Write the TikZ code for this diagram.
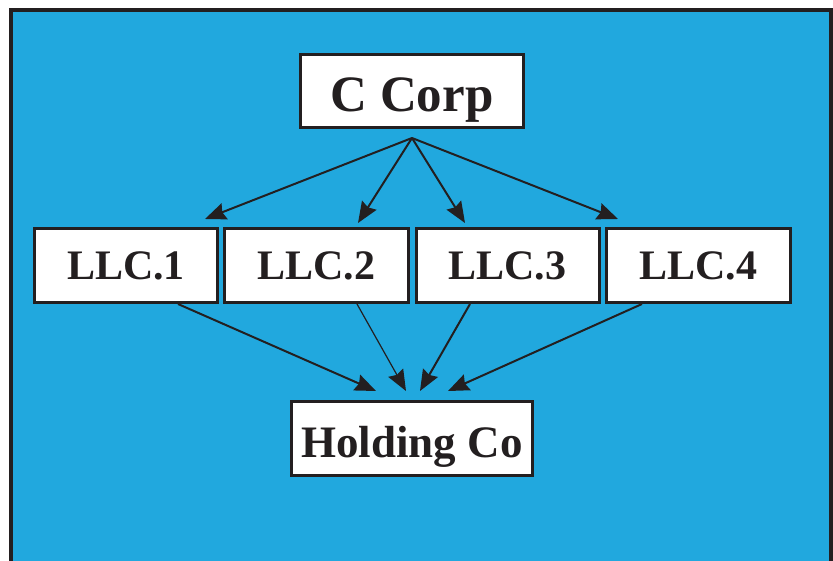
\documentclass[tikz,border=0pt]{standalone}
\usepackage{fontspec}
\setmainfont{Liberation Serif}
\usetikzlibrary{arrows.meta}
\definecolor{bgblue}{RGB}{33,168,222}
\definecolor{ink}{RGB}{35,31,32}
\tikzset{
  box/.style={draw=ink, fill=white, line width=3pt, inner sep=0pt, text=ink, font=\bfseries},
  arr/.style={draw=ink, line width=2pt, -{Stealth[length=21pt, width=17pt, inset=2.5pt]}},
  thinarr/.style={arr, line width=1.2pt}
}
\begin{document}
\begin{tikzpicture}[x=1pt, y=-1pt]
\useasboundingbox (0,0) rectangle (833,561);
\fill[bgblue] (10,10) rectangle (833,561);
\draw[ink, line width=4pt] (10.5,561) -- (10.5,10) -- (831,10) -- (831,561);

\node[box, minimum width=223pt, minimum height=73pt, text height=41pt, text depth=0pt, font=\fontsize{51}{51}\selectfont\bfseries] (ccorp) at (412,91) {C Corp};
\node[box, minimum width=183pt, minimum height=74pt, font=\fontsize{42}{42}\selectfont\bfseries] (llc1) at (126,265.5) {LLC.1};
\node[box, minimum width=184pt, minimum height=74pt, font=\fontsize{42}{42}\selectfont\bfseries] (llc2) at (316.5,265.5) {LLC.2};
\node[box, minimum width=183pt, minimum height=74pt, font=\fontsize{42}{42}\selectfont\bfseries] (llc3) at (507.5,265.5) {LLC.3};
\node[box, minimum width=184pt, minimum height=74pt, font=\fontsize{42}{42}\selectfont\bfseries] (llc4) at (698.5,265.5) {LLC.4};
\node[box, minimum width=241pt, minimum height=74pt, text height=37pt, text depth=0pt, font=\fontsize{45}{45}\selectfont\bfseries] (hold) at (412,438.5) {Holding Co};

% top fan
\coordinate (apex) at (412,138);
\coordinate (t1) at (205,219);
\coordinate (t2) at (358,223);
\coordinate (t3) at (465,223);
\coordinate (t4) at (618,219);
\draw[arr] (apex) -- (t1);
\draw[arr] (apex) -- (t2);
\draw[arr] (apex) -- (t3);
\draw[arr] (apex) -- (t4);

% bottom fan
\coordinate (s1) at (178,0);
\coordinate (s2) at (357,0);
\coordinate (s3) at (470,0);
\coordinate (s4) at (642,0);
\coordinate (h1) at (376,391);
\coordinate (h2) at (406,391);
\coordinate (h3) at (420,391);
\coordinate (h4) at (448,391);
\draw[arr] (llc1.south -| s1) -- (h1);
\draw[thinarr] (llc2.south -| s2) -- (h2);
\draw[arr] (llc3.south -| s3) -- (h3);
\draw[arr] (llc4.south -| s4) -- (h4);
\end{tikzpicture}
\end{document}
